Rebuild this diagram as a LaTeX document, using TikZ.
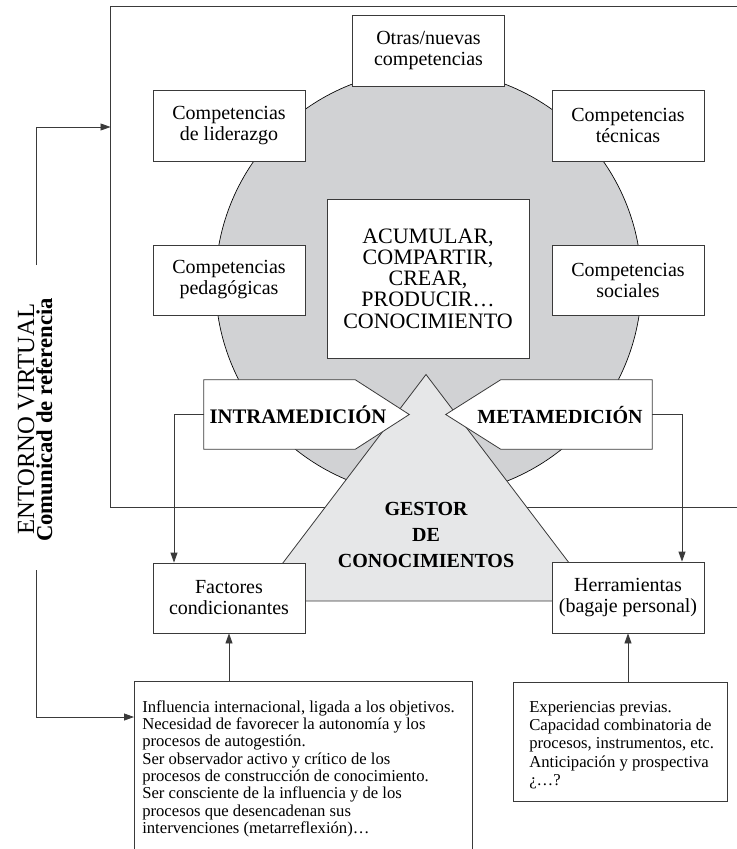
\documentclass[tikz,border=0pt]{standalone}
\usepackage{fontspec}
\setmainfont{Liberation Serif}
\usetikzlibrary{arrows.meta,calc}
\definecolor{circfill}{HTML}{D1D2D4}
\definecolor{trifill}{HTML}{E6E7E8}
\definecolor{lncol}{HTML}{3A3A3A}
\begin{document}
\begin{tikzpicture}[x=0.75pt,y=-0.75pt,
  box/.style={draw=lncol, line width=0.6pt, fill=white, align=center, inner sep=0pt,
    font=\fontsize{15}{15.75}\selectfont, minimum width=114pt, minimum height=53.25pt},
  arr/.style={draw=lncol, line width=0.6pt, -{Triangle[length=7.5pt,width=5.25pt]}},
  thinline/.style={draw=lncol, line width=0.6pt},
  boldlbl/.style={font=\bfseries\fontsize{15.5}{19.5}\selectfont, align=center, inner sep=0pt},
  bodytext/.style={anchor=north west, inner sep=0pt, align=left},
]
\useasboundingbox (0,0) rectangle (736,849);

% outer frame (virtual environment)
\draw[thinline] (737,6.5) -- (110.5,6.5) -- (110.5,507) -- (737,507);

% circle
\fill[circfill] (428.5,283) circle[radius=159.75pt];
\draw[black, line width=0.5pt] (428.5,283) circle[radius=159.75pt];

% triangle
\draw[thinline, fill=trifill] (426,374.5) -- (254,601) -- (598,601) -- cycle;

% competence boxes
\node[box] (otras) at (428.5,50.5) {Otras/nuevas\\competencias};
\node[box] (lider) at (229,125.5) {Competencias\\de liderazgo};
\node[box] (tecn) at (628,125.5) {Competencias\\técnicas};
\node[box, minimum height=52.5pt] (ped) at (229,280) {Competencias\\pedagógicas};
\node[box, minimum height=52.5pt] (soc) at (628,280) {Competencias\\sociales};
\node[box, minimum width=151.5pt, minimum height=119.25pt,
      font=\fontsize{16.5}{15.9}\selectfont] (center) at (428,278.5)
      {ACUMULAR,\\COMPARTIR,\\CREAR,\\PRODUCIR…\\CONOCIMIENTO};

% factors / tools
\node[box, minimum height=52.5pt] (fact) at (229,598) {Factores\\condicionantes};
\node[box, minimum height=53.25pt] (herr) at (628,597.5) {Herramientas\\(bagaje personal)};

% arrow shapes
\node[minimum width=113.25pt, minimum height=51.75pt, inner sep=0pt] (intra) at (279.5,414.5) {};
\draw[thinline, fill=white] (intra.north west) -- (intra.north east) -- ($(intra.east)+(54,0)$)
   -- (intra.south east) -- (intra.south west) -- cycle;
\node[boldlbl, anchor=base] (intraT) at (298,423) {INTRAMEDICIÓN};

\node[minimum width=113.25pt, minimum height=51.75pt, inner sep=0pt] (meta) at (576.5,414.5) {};
\draw[thinline, fill=white] (meta.north east) -- (meta.north west) -- ($(meta.west)+(-55,0)$)
   -- (meta.south west) -- (meta.south east) -- cycle;
\node[boldlbl, anchor=base, font=\bfseries\fontsize{15}{19.5}\selectfont] (metaT) at (560,423) {METAMEDICIÓN};

% gestor
\node[boldlbl, font=\bfseries\fontsize{15}{19.5}\selectfont] (gestor) at (426,534.5) {GESTOR\\DE\\CONOCIMIENTOS};

% bottom boxes
\draw[thinline] (134,851) -- (134,681) -- (472,681) -- (472,851);
\node[bodytext, font=\fontsize{12.5}{13}\selectfont] (infl) at (142,700)
  {Influencia internacional, ligada a los objetivos.\\
   Necesidad de favorecer la autonomía y los\\
   procesos de autogestión.\\
   Ser observador activo y crítico de los\\
   procesos de construcción de conocimiento.\\
   Ser consciente de la influencia y de los\\
   procesos que desencadenan sus\\
   intervenciones (metarreflexión)…};

\node[draw=lncol, line width=0.6pt, minimum width=160.5pt, minimum height=89.25pt, inner sep=0pt] (exp) at (620,741.5) {};
\node[bodytext, font=\fontsize{12.5}{13.7}\selectfont] (expT) at (529,701)
  {Experiencias previas.\\
   Capacidad combinatoria de\\
   procesos, instrumentos, etc.\\
   Anticipación y prospectiva\\
   ¿…?};

% vertical labels
\node[rotate=90, anchor=base, inner sep=0pt, font=\fontsize{18.5}{20}\selectfont] (ent) at (34,419) {ENTORNO VIRTUAL};
\node[rotate=90, anchor=base, inner sep=0pt, font=\bfseries\fontsize{17}{19}\selectfont] (com) at (52,420) {Comunicad de referencia};

% connectors
\coordinate (frameL) at (110.5,127);
\coordinate (upEnd) at (36,265);
\draw[arr] (upEnd) |- (frameL);
\coordinate (loStart) at (36,570);
\coordinate (inflW) at (134,717);
\draw[arr] (loStart) |- (inflW);
\coordinate (c1) at (174,414);
\draw[arr] (intra.west) -| (fact.north -| c1);
\coordinate (c2) at (682,414);
\draw[arr] (meta.east) -| (herr.north -| c2);
\coordinate (ibt) at (229,681);
\draw[arr] (ibt) -- (fact.south);
\draw[arr] (exp.north -| herr.south) -- (herr.south);
\end{tikzpicture}
\end{document}
